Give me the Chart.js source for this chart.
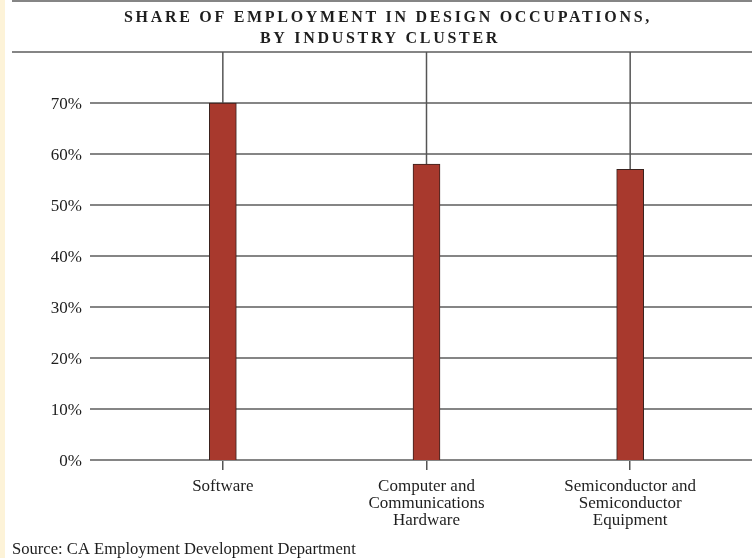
<!DOCTYPE html>
<html>
<head>
<meta charset="utf-8">
<script src="https://cdn.jsdelivr.net/npm/chart.js@4"></script>
<style>
  html, body { margin: 0; padding: 0; background: #fff; }
  #wrap { width: 752px; height: 558px; position: relative; }
</style>
</head>
<body>
<div id="wrap"><canvas id="chart"></canvas></div>
<script>
// values
const categories = [
  ["Software"],
  ["Computer and", "Communications", "Hardware"],
  ["Semiconductor and", "Semiconductor", "Equipment"],
];
const shares = [70, 58, 57];
const yTicks = [0, 10, 20, 30, 40, 50, 60, 70];
const yTop = 80;
const titleLines = ["SHARE OF EMPLOYMENT IN DESIGN OCCUPATIONS,", "BY INDUSTRY CLUSTER"];
const sourceText = "Source: CA Employment Development Department";

const SERIF = "'Liberation Serif', 'Times New Roman', serif";
const GRID = "#858585";
const INK = "#1e1e1e";

// lines, title and source drawn around the chart
const decor = {
  id: "decor",
  beforeDraw(chart) {
    const { ctx, width, height } = chart;
    ctx.save();
    ctx.fillStyle = "#fdf3d8";
    ctx.fillRect(0, 0, 5, height);
    ctx.strokeStyle = GRID;
    ctx.lineWidth = 2;
    ctx.beginPath();
    ctx.moveTo(12, 1);
    ctx.lineTo(width, 1);
    ctx.stroke();
    ctx.restore();
  },
  beforeDatasetsDraw(chart) {
    const { ctx, width } = chart;
    const y = chart.scales.y;
    ctx.save();
    ctx.strokeStyle = GRID;
    ctx.lineWidth = 2;
    yTicks.forEach((v) => {
      const py = Math.round(y.getPixelForValue(v));
      ctx.beginPath();
      ctx.moveTo(90, py);
      ctx.lineTo(width, py);
      ctx.stroke();
    });
    const topY = Math.round(y.getPixelForValue(yTop));
    ctx.beginPath();
    ctx.moveTo(12, topY);
    ctx.lineTo(width, topY);
    ctx.stroke();

    // connectors from the top rule down to each bar
    ctx.strokeStyle = "#555";
    ctx.lineWidth = 1.5;
    chart.getDatasetMeta(0).data.forEach((bar) => {
      ctx.beginPath();
      ctx.moveTo(bar.x, topY);
      ctx.lineTo(bar.x, bar.y);
      ctx.stroke();
    });
    ctx.restore();
  },
  afterDraw(chart) {
    const { ctx } = chart;
    ctx.save();
    ctx.fillStyle = INK;
    ctx.textBaseline = "middle";
    ctx.textAlign = "center";
    ctx.font = "bold 16px " + SERIF;
    ctx.letterSpacing = "2.7px";
    ctx.fillText(titleLines[0], 388, 18);
    ctx.fillText(titleLines[1], 380, 39);
    ctx.letterSpacing = "0px";
    ctx.textAlign = "left";
    ctx.font = "16.6px " + SERIF;
    ctx.fillText(sourceText, 12, 550);
    ctx.restore();
  },
};

const ctx = document.getElementById("chart");

new Chart(ctx, {
  type: "bar",
  data: {
    labels: categories,
    datasets: [
      {
        data: shares,
        backgroundColor: "#a8392d",
        borderColor: "#3a221e",
        borderWidth: 1,
        barThickness: 27,
      },
    ],
  },
  options: {
    responsive: true,
    maintainAspectRatio: false,
    animation: false,
    layout: {
      padding: { top: 52, right: 20, bottom: 0, left: 0 },
    },
    plugins: {
      legend: { display: false },
      title: { display: false },
      tooltip: { enabled: false },
    },
    scales: {
      x: {
        grid: {
          display: true,
          drawOnChartArea: false,
          drawTicks: true,
          tickLength: 10,
          offset: false,
          color: "#555",
          lineWidth: 1.5,
        },
        border: { display: false },
        ticks: {
          color: INK,
          padding: 8,
          maxRotation: 0,
          autoSkip: false,
          font: { family: SERIF, size: 17, lineHeight: 1.0 },
        },
        afterFit(scale) {
          scale.height = 98;
        },
      },
      y: {
        min: 0,
        max: yTop,
        grid: { display: false, drawTicks: false },
        border: { display: false },
        afterBuildTicks(scale) {
          scale.ticks = yTicks.map((v) => ({ value: v }));
        },
        ticks: {
          color: INK,
          padding: 39,
          labelOffset: 2,
          font: { family: SERIF, size: 17 },
          callback: (v) => v + "%",
        },
        afterFit(scale) {
          scale.width = 121;
        },
      },
    },
  },
  plugins: [decor],
});
</script>
</body>
</html>
